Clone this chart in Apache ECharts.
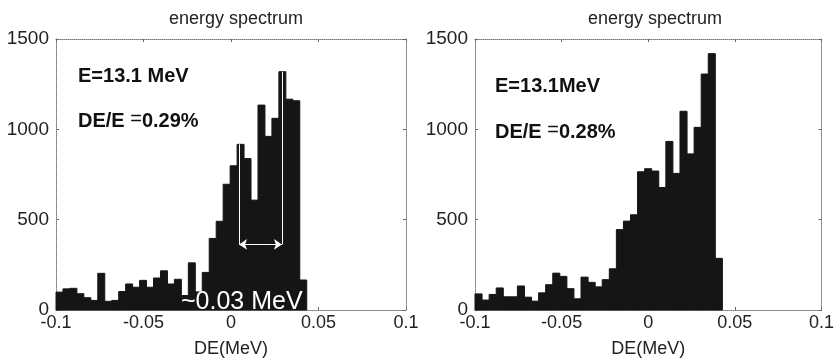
<!DOCTYPE html>
<html>
<head>
<meta charset="utf-8">
<script src="https://cdn.jsdelivr.net/npm/echarts@6/dist/echarts.min.js"></script>
<style>
  html, body { margin: 0; padding: 0; background: #fff; }
  #chart { width: 837px; height: 363px; }
</style>
</head>
<body>
<div id="chart"></div>
<script>
const xTicks = [-0.1, -0.05, 0, 0.05, 0.1];
const yTicks = [0, 500, 1000, 1500];

// left histogram: 36 bins from -0.1
const leftStart = -0.1;
const leftBinWidth = 0.00398;
const leftCounts = [99, 117, 120, 90, 68, 53, 203, 48, 53, 102, 144, 126, 164, 126, 177, 217, 144, 170,
  80, 261, 100, 208, 396, 491, 696, 798, 917, 838, 608, 1134, 961, 1061, 1319, 1167, 1158, 166];

// right histogram: 35 bins from -0.1
const rightStart = -0.1;
const rightBinWidth = 0.00408;
const rightCounts = [89, 55, 86, 122, 73, 73, 133, 71, 49, 95, 140, 204, 186, 118, 62, 182, 153, 128, 168,
  228, 445, 492, 527, 765, 782, 769, 678, 933, 756, 1100, 864, 1011, 1306, 1419, 286];

// FWHM marker on left panel
const fwhmLeft = 0.0046;
const fwhmRight = 0.0291;
const fwhmY = 363;

const font = 'Liberation Sans, Arial, sans-serif';
const ink = '#151515';
const frame = { color: '#777', type: 'dotted', width: 1 };

const chart = echarts.init(document.getElementById('chart'));

function bins(start, width, counts) {
  return counts.map((c, i) => [start + i * width, start + (i + 1) * width, c]);
}

function renderBar(params, api) {
  const p0 = api.coord([api.value(0), api.value(2)]);
  const p1 = api.coord([api.value(1), 0]);
  return {
    type: 'rect',
    shape: { x: p0[0], y: p0[1], width: p1[0] - p0[0], height: p1[1] - p0[1] },
    style: { fill: ink, stroke: ink, lineWidth: 1 }
  };
}

function xAxes(gridIndex) {
  return [
    {
      type: 'value', gridIndex, min: -0.1, max: 0.1, interval: 0.05,
      name: 'DE(MeV)', nameLocation: 'middle', nameGap: 30,
      nameTextStyle: { fontFamily: font, fontSize: 18, color: '#222' },
      axisLine: { onZero: false, lineStyle: frame },
      axisTick: { inside: true, length: 3, lineStyle: { color: '#666' } },
      axisLabel: {
        fontFamily: font, fontSize: 18, color: '#222', margin: 4,
        formatter: v => xTicks.includes(+v.toFixed(2)) ? String(+v.toFixed(2)) : ''
      },
      splitLine: { show: false }
    },
    {
      type: 'value', gridIndex, position: 'top', min: -0.1, max: 0.1, interval: 0.05,
      axisLine: { onZero: false, lineStyle: frame },
      axisTick: { inside: true, length: 3, lineStyle: { color: '#666' } },
      axisLabel: { show: false }, splitLine: { show: false }
    }
  ];
}

function yAxes(gridIndex) {
  return [
    {
      type: 'value', gridIndex, position: 'left', min: 0, max: 1500, interval: 500,
      axisLine: { show: true, onZero: false, lineStyle: frame },
      axisTick: { show: true, inside: true, length: 3, lineStyle: { color: '#666' } },
      axisLabel: {
        fontFamily: font, fontSize: 19, color: '#222', margin: 7,
        formatter: v => yTicks.includes(v) ? String(v) : ''
      },
      splitLine: { show: false }
    },
    {
      type: 'value', gridIndex, position: 'right', min: 0, max: 1500, interval: 500,
      axisLine: { show: true, onZero: false, lineStyle: frame },
      axisTick: { show: true, inside: true, length: 3, lineStyle: { color: '#666' } },
      axisLabel: { show: false }, splitLine: { show: false }
    }
  ];
}

const whiteLine = { color: '#fff', width: 1, type: 'solid' };

const option = {
  animation: false,
  title: [
    { text: 'energy spectrum', left: 231, top: 5, textAlign: 'center',
      textStyle: { fontFamily: font, fontSize: 18, fontWeight: 'normal', color: '#222' } },
    { text: 'energy spectrum', left: 650, top: 5, textAlign: 'center',
      textStyle: { fontFamily: font, fontSize: 18, fontWeight: 'normal', color: '#222' } }
  ],
  grid: [
    { left: 56, top: 39, width: 350, height: 274 },
    { left: 475, top: 39, width: 349, height: 274 }
  ],
  xAxis: [...xAxes(0), ...xAxes(1)],
  yAxis: [...yAxes(0), ...yAxes(1)],
  series: [
    {
      type: 'custom', xAxisIndex: 0, yAxisIndex: 0,
      data: bins(leftStart, leftBinWidth, leftCounts),
      encode: { x: [0, 1], y: 2 },
      renderItem: renderBar
    },
    {
      type: 'custom', xAxisIndex: 2, yAxisIndex: 2,
      data: bins(rightStart, rightBinWidth, rightCounts),
      encode: { x: [0, 1], y: 2 },
      renderItem: renderBar
    },
    {
      type: 'line', xAxisIndex: 0, yAxisIndex: 0, data: [], z: 5,
      markLine: {
        silent: true, animation: false,
        label: { show: false },
        lineStyle: whiteLine,
        data: [
          [{ coord: [fwhmLeft, 917], symbol: 'none' }, { coord: [fwhmLeft, fwhmY], symbol: 'none' }],
          [{ coord: [fwhmRight, 1319], symbol: 'none' }, { coord: [fwhmRight, fwhmY], symbol: 'none' }],
          [{ coord: [fwhmLeft, fwhmY], symbol: 'arrow', symbolSize: 8 },
           { coord: [fwhmRight, fwhmY], symbol: 'arrow', symbolSize: 8 }]
        ]
      }
    }
  ],
  graphic: [
    { type: 'text', left: 78, top: 66,
      style: { text: 'E=13.1 MeV', font: 'bold 20px ' + font, fill: '#111' } },
    { type: 'text', left: 78, top: 109,
      style: { text: '{b|DE/E }{e|=}{b|0.29%}',
        rich: { b: { font: 'bold 20px ' + font, fill: '#111' }, e: { font: '20px ' + font, fill: '#111', padding: [0, 0, 5, 0] } } } },
    { type: 'text', left: 181, top: 290, z: 10,
      style: { text: '~0.03 MeV', font: '25px ' + font, fill: '#fff' } },
    { type: 'text', left: 495, top: 76,
      style: { text: 'E=13.1MeV', font: 'bold 20px ' + font, fill: '#111' } },
    { type: 'text', left: 495, top: 120,
      style: { text: '{b|DE/E }{e|=}{b|0.28%}',
        rich: { b: { font: 'bold 20px ' + font, fill: '#111' }, e: { font: '20px ' + font, fill: '#111', padding: [0, 0, 5, 0] } } } }
  ]
};

chart.setOption(option);
</script>
</body>
</html>
